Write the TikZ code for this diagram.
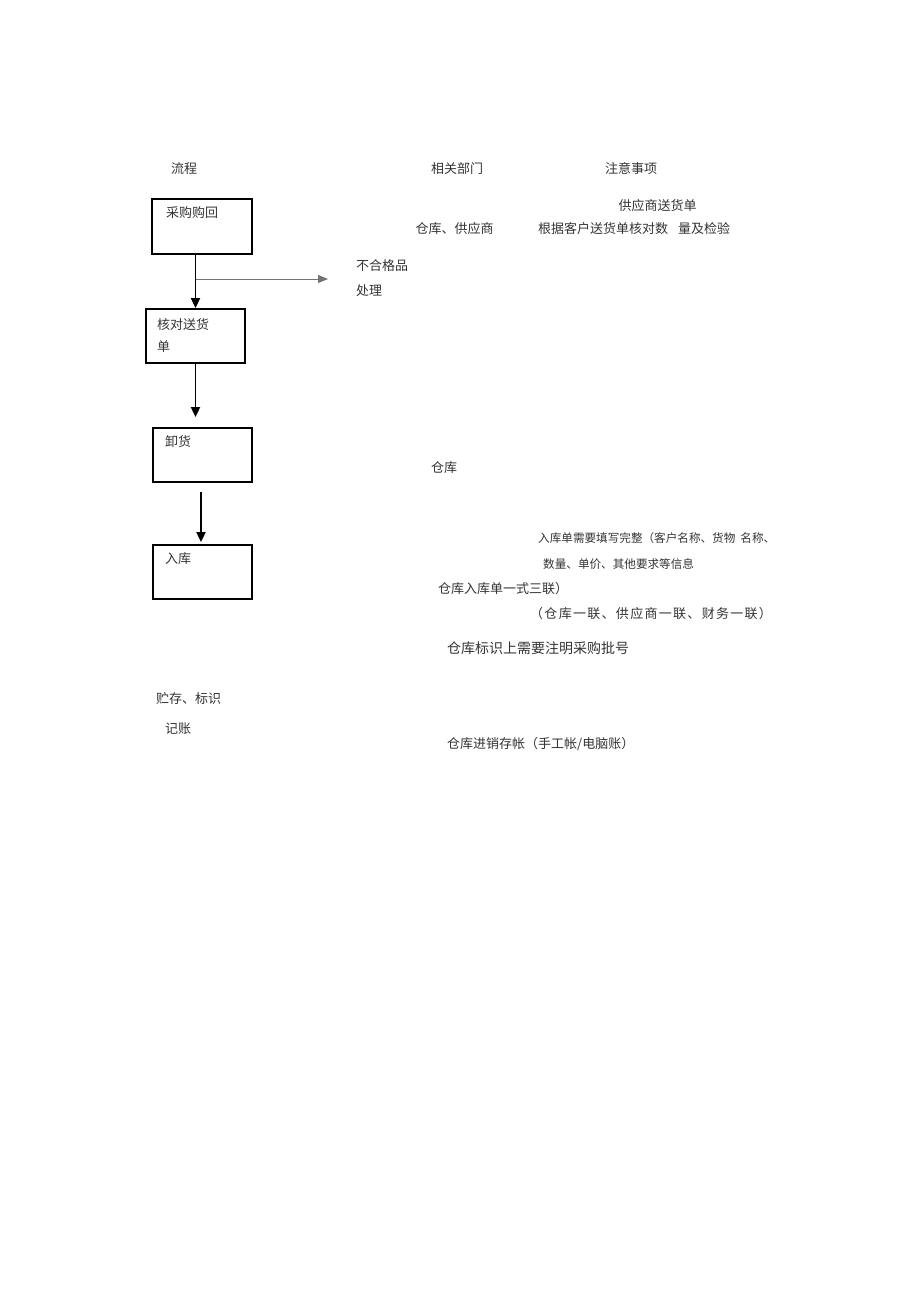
\documentclass[tikz,border=0pt]{standalone}
\usepackage{fontspec}
\setmainfont{Noto Sans CJK SC}
\usetikzlibrary{arrows.meta, positioning}

\begin{document}
\begin{tikzpicture}[x=1pt, y=-1pt,
    stepbox/.style={draw, line width=1.8pt, minimum width=99pt, minimum height=54pt, inner sep=0pt},
    txt/.style={inner sep=0pt, text=black!80, font=\fontsize{13}{13}\selectfont},
    smalltxt/.style={inner sep=0pt, text=black!80, font=\fontsize{11.6}{11.6}\selectfont},
    flow/.style={line width=1.8pt, -{Triangle[length=10pt,width=9pt]}},
    side/.style={line width=1pt, draw=black!55, -{Triangle[length=10pt,width=8pt]}}]
    \useasboundingbox (0,0) rectangle (920,1303);

    % column heads
    \node[txt] (headflow) at (184,169) {流程};
    \node[txt] (headdept) at (457,169) {相关部门};
    \node[txt] (headnote) at (631,169) {注意事项};

    % flow boxes
    \node[stepbox, minimum width=100pt, minimum height=55pt] (buy) at (202,226.5) {};
    \node[txt, anchor=west] at (166,213) {采购购回};
    \node[stepbox] (check) at (195.5,336) {};
    \node[txt, anchor=west] at (157,325) {核对送货};
    \node[txt, anchor=west] at (157,347) {单};
    \node[stepbox] (unload) at (202.5,455) {};
    \node[txt, anchor=west] at (165,442) {卸货};
    \node[stepbox] (store) at (202.5,572) {};
    \node[txt, anchor=west] at (165,559) {入库};

    % connectors
    \coordinate (reject) at (328,279);
    \draw[flow] (buy.south -| check.north) -- (check.north);
    \draw[side] (reject -| check.north) -- (reject);
    \draw[flow, shorten >=10pt] (check.south) -- (unload.north -| check.south);
    \draw[flow, shorten <=9pt, shorten >=2pt] ([xshift=-1.5pt]unload.south) -- ([xshift=-1.5pt]store.north);

    % rejected goods
    \node[txt, anchor=west] (rej1) at (356,266) {不合格品};
    \node[txt, anchor=west] (rej2) at (356,291) {处理};

    % departments and notes
    \node[txt] (n1) at (657.5,206) {供应商送货单};
    \node[txt] (d1) at (454.5,229) {仓库、供应商};
    \node[txt, anchor=west] (n2) at (538,229) {根据客户送货单核对数\hspace{10pt}量及检验};
    \node[txt] (d2) at (444,468) {仓库};
    \node[smalltxt, anchor=west] (n3) at (538,538) {入库单需要填写完整（客户名称、货物\hspace{5pt}名称、};
    \node[smalltxt, anchor=west] (n4) at (543,564) {数量、单价、其他要求等信息};
    \node[txt, anchor=west] (n5) at (438,589) {仓库入库单一式三联）};
    \node[txt, anchor=west] (n6) at (530,614) {\addfontfeature{LetterSpace=10}（仓库一联、供应商一联、财务一联）};
    \node[txt, anchor=west, font=\fontsize{14}{14}\selectfont] (n7) at (447,648) {仓库标识上需要注明采购批号};

    % later steps
    \node[txt, anchor=west] (keep) at (156,699) {贮存、标识};
    \node[txt, anchor=west] (book) at (165,729) {记账};
    \node[txt, anchor=west] (n8) at (447,744) {仓库进销存帐（手工帐/电脑账）};
\end{tikzpicture}
\end{document}
